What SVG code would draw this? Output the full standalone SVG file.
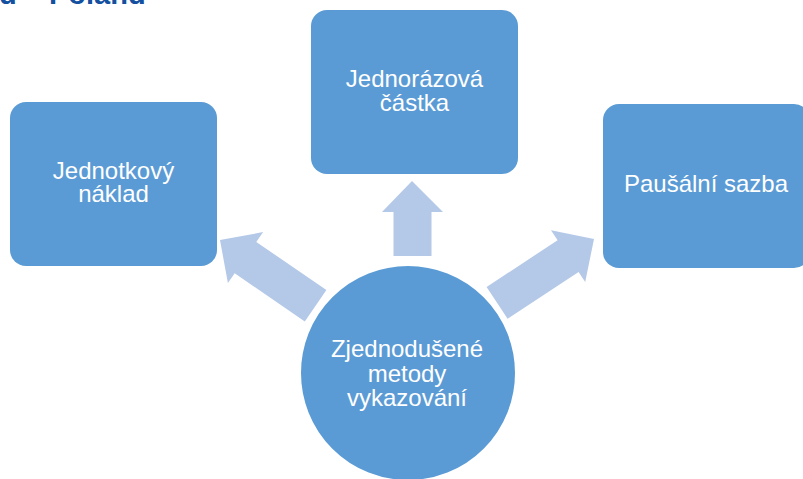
<svg xmlns="http://www.w3.org/2000/svg" width="803" height="479" viewBox="0 0 803 479">
<style>
.box{fill:#5B9BD5;}
.arr{fill:#B4C8E8;}
.lbl{font-family:"Liberation Sans",Arial,sans-serif;font-size:24px;fill:#FFFFFF;text-anchor:middle;}
.title{font-family:"Liberation Sans",Arial,sans-serif;font-size:29px;font-weight:bold;fill:#1450A0;}
</style>
<rect width="803" height="479" fill="#FFFFFF"/>
<text class="title" x="-1" y="4">d – Poland</text>
<g id="connectors">
<polygon class="arr" points="412,181 443,212 431.5,212 431.5,256 393.5,256 393.5,212 382,212"/>
<polygon class="arr" points="220,240 263.1,232.1 256.3,241.9 326.4,290.1 304.8,321.5 234.7,273.3 227.9,283.1"/>
<polygon class="arr" points="594,239 551,230.2 557.6,240.2 486.6,287 507.6,318.8 578.6,272 585.2,282"/>
</g>
<g id="node-jednotkovy">
<rect class="box" x="10" y="102" width="207" height="164" rx="16"/>
<text class="lbl" x="113.5" y="179">Jednotkový</text>
<text class="lbl" x="113.5" y="202">náklad</text>
</g>
<g id="node-jednorazova">
<rect class="box" x="311" y="10" width="207" height="164" rx="16"/>
<text class="lbl" x="414.5" y="87">Jednorázová</text>
<text class="lbl" x="414.5" y="111">částka</text>
</g>
<g id="node-pausalni">
<rect class="box" x="603" y="104" width="207" height="164" rx="16"/>
<text class="lbl" x="706" y="192">Paušální sazba</text>
</g>
<g id="node-center">
<circle class="box" cx="408" cy="373" r="108" stroke="#FFFFFF" stroke-width="2"/>
<text class="lbl" x="407" y="357">Zjednodušené</text>
<text class="lbl" x="407" y="382">metody</text>
<text class="lbl" x="407" y="406">vykazování</text>
</g>
</svg>
